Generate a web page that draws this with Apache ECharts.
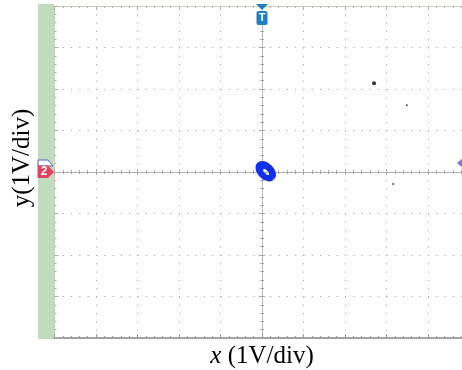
<!DOCTYPE html>
<html><head><meta charset="utf-8">
<script src="https://cdn.jsdelivr.net/npm/echarts@6/dist/echarts.min.js"></script>
<style>html,body{margin:0;padding:0;background:#fff}#c{width:462px;height:370px}</style>
</head><body><div id="c"></div>
<script>
// Screen: 10 horizontal divisions x 8 vertical divisions, 1 V/div
const xRange = [-5, 5];
const yRange = [-4, 4];
const divInterval = 1;
const xTitle = 'x';
const xUnit = ' (1V/div)';
const yTitle = 'y(1V/div)';

// XY trace (noisy ellipse near origin), two passes
const loopAX = [0.246, 0.271, 0.247, 0.182, 0.092, 0.001, -0.066, -0.091, -0.067, -0.002, 0.088, 0.179, 0.246];
const loopAY = [-0.136, -0.069, 0.022, 0.112, 0.177, 0.201, 0.176, 0.109, 0.018, -0.072, -0.137, -0.161, -0.136];
const loopBX = [0.213, 0.225, 0.164, 0.065, -0.013, -0.025, 0.036, 0.135, 0.213];
const loopBY = [-0.113, -0.035, 0.064, 0.125, 0.113, 0.035, -0.064, -0.125, -0.113];

// stray dots
const bigDotX = [2.70];
const bigDotY = [2.14];
const smallDotX = [3.49, 3.16];
const smallDotY = [1.61, -0.29];

const zip = (a, b) => a.map((v, i) => [v, b[i]]);
const serif = "'Liberation Serif','Times New Roman',serif";

const chart = echarts.init(document.getElementById('c'), null, {renderer: 'canvas'});

const baseX = {
  type: 'value', min: xRange[0], max: xRange[1], interval: divInterval,
  axisLabel: {show: false}, splitLine: {show: false}
};
const baseY = {
  type: 'value', min: yRange[0], max: yRange[1], interval: divInterval,
  axisLabel: {show: false}, splitLine: {show: false}
};
const dots = {type: [1, 7.3], color: '#9a9a9a', width: 1};

const option = {
  animation: false,
  backgroundColor: '#ffffff',
  grid: {left: 54.5, top: 6, width: 415, height: 332, containLabel: false, outerBoundsMode: 'none'},
  xAxis: [
    Object.assign({}, baseX, {position: 'bottom',
      axisLine: {onZero: false, lineStyle: {color: '#a3a3a3', width: 2}},
      axisTick: {inside: true, length: 4, lineStyle: {color: '#9a9a9a'}},
      minorTick: {show: true, splitNumber: 5, length: 2, lineStyle: {color: '#9a9a9a'}},
      splitLine: {show: true, lineStyle: dots}}),
    Object.assign({}, baseX, {position: 'top',
      axisLine: {onZero: false, lineStyle: {color: '#cfc9bb', width: 1}},
      axisTick: {inside: true, length: 4, lineStyle: {color: '#b0aea5'}},
      minorTick: {show: true, splitNumber: 5, length: 2, lineStyle: {color: '#b0aea5'}}}),
    Object.assign({}, baseX, {position: 'bottom',
      axisLine: {onZero: true, onZeroAxisIndex: 0, lineStyle: {color: '#a8a8a8', type: [1, 1]}},
      axisTick: {inside: true, length: 3, lineStyle: {color: '#a8a8a8'}},
      minorTick: {show: true, splitNumber: 5, length: 2, lineStyle: {color: '#a8a8a8'}}}),
    Object.assign({}, baseX, {position: 'bottom',
      axisLine: {onZero: true, onZeroAxisIndex: 0, show: false},
      axisTick: {inside: false, length: 3, lineStyle: {color: '#a8a8a8'}},
      minorTick: {show: true, splitNumber: 5, length: 2, lineStyle: {color: '#a8a8a8'}}})
  ],
  yAxis: [
    Object.assign({}, baseY, {position: 'left',
      axisLine: {onZero: false, lineStyle: {color: '#d2cdb8', width: 1}},
      axisTick: {inside: true, length: 4, lineStyle: {color: '#b0aea5'}},
      minorTick: {show: true, splitNumber: 5, length: 2, lineStyle: {color: '#b0aea5'}},
      splitLine: {show: true, lineStyle: dots}}),
    Object.assign({}, baseY, {position: 'left',
      axisLine: {onZero: true, onZeroAxisIndex: 0, lineStyle: {color: '#a8a8a8', type: [1, 1]}},
      axisTick: {inside: true, length: 3, lineStyle: {color: '#a8a8a8'}},
      minorTick: {show: true, splitNumber: 5, length: 2, lineStyle: {color: '#a8a8a8'}}}),
    Object.assign({}, baseY, {position: 'left',
      axisLine: {onZero: true, onZeroAxisIndex: 0, show: false},
      axisTick: {inside: false, length: 3, lineStyle: {color: '#a8a8a8'}},
      minorTick: {show: true, splitNumber: 5, length: 2, lineStyle: {color: '#a8a8a8'}}})
  ],
  series: [
    {type: 'line', data: zip(loopAX, loopAY), showSymbol: false, smooth: true,
      lineStyle: {color: '#1030f0', width: 5.5}, z: 5},
    {type: 'line', data: zip(loopBX, loopBY), showSymbol: false, smooth: true,
      lineStyle: {color: '#1030f0', width: 4.5}, z: 5},
    {type: 'scatter', data: zip(bigDotX, bigDotY), symbolSize: 4,
      itemStyle: {color: '#000'}, z: 5},
    {type: 'scatter', data: zip(smallDotX, smallDotY), symbolSize: 2,
      itemStyle: {color: '#222'}, z: 5}
  ]
};
chart.setOption(option);

const ctr = chart.convertToPixel({gridIndex: 0}, [0, 0]);
const topP = chart.convertToPixel({gridIndex: 0}, [0, yRange[1]]);
const cx = ctr[0], cy = ctr[1], ty = topP[1];

chart.setOption({
  graphic: [
    {type: 'rect', shape: {x: 38, y: 4, width: 16, height: 335}, style: {fill: '#bfdcbf'}, z: -10, silent: true},
    // trigger marker
    {type: 'polygon', shape: {points: [[cx - 6, ty - 2], [cx + 6, ty - 2], [cx, ty + 4]]}, style: {fill: '#1f7ec4'}, z: 20},
    {type: 'rect', shape: {x: cx - 5.5, y: ty + 5, width: 11, height: 14, r: 2}, style: {fill: '#1f7ec4'}, z: 20},
    {type: 'text', x: cx, y: ty + 12, style: {text: 'T', fill: '#fff', font: 'bold 11px Arial', align: 'center', verticalAlign: 'middle'}, z: 21},
    // channel 1 (hidden) and channel 2 markers
    {type: 'polygon', shape: {points: [[38, cy - 12], [48, cy - 12], [53, cy - 6], [38, cy - 6]]}, style: {fill: '#fff', stroke: '#5b5bd0', lineWidth: 1}, z: 19},
    {type: 'polygon', shape: {points: [[37.5, cy - 6.5], [48, cy - 6.5], [54, cy], [48, cy + 6], [37.5, cy + 6]]}, style: {fill: '#e2435f'}, z: 20},
    {type: 'text', x: 44, y: cy, style: {text: '2', fill: '#fff', font: 'bold 12px Arial', align: 'center', verticalAlign: 'middle'}, z: 21},
    // right marker
    {type: 'polygon', shape: {points: [[457, cy - 9], [463, cy - 14], [463, cy - 4]]}, style: {fill: '#7a7ae0'}, z: 20},
    // titles
    {type: 'text', x: 22, y: 158, rotation: Math.PI / 2,
      style: {text: yTitle, fill: '#000', font: '25px ' + serif, align: 'center', verticalAlign: 'middle'}},
    {type: 'text', x: 262, y: 356,
      style: {text: '{i|' + xTitle + '}' + xUnit, fill: '#000', font: '25px ' + serif, align: 'center', verticalAlign: 'middle',
        rich: {i: {font: 'italic 25px ' + serif, fill: '#000'}}}}
  ]
});
</script>
</body></html>
